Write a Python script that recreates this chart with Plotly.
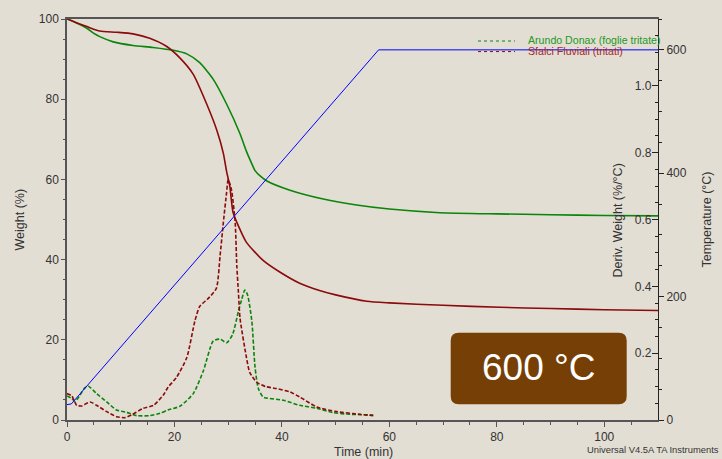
import plotly.graph_objects as go

# ---------------- data ----------------
# Temperature program (blue)
temp_t = [0, 0.8, 58, 110]
temp_v = [25, 26, 600, 600]

# Weight (%) - Arundo Donax (green)
ad_w_t = [0, 1.5, 3.7, 5, 6.1, 8.6, 12.3, 16, 19.8, 22.3, 24.7, 27.2, 29.7, 32.2,
          33.4, 34.2, 35, 36, 37.2, 41.5, 47.7, 53.9, 60, 69.4, 80, 90, 100, 110]
ad_w = [100, 99.2, 97.7, 96.4, 95.6, 94.3, 93.4, 92.9, 92.2, 91.3, 89.1, 85, 78.8, 71.4,
        67, 64.5, 62.2, 60.8, 59.6, 57.3, 55.1, 53.6, 52.6, 51.7, 51.4, 51.2, 51.0, 50.9]

# Weight (%) - Sfalci Fluviali (red)
sf_w_t = [0, 1.5, 3.7, 6.1, 9.2, 12.3, 15.4, 18.5, 21, 23.5, 26, 27.9, 29.1, 29.7, 30.3,
          30.9, 31.9, 33.4, 36.5, 39.6, 43.3, 47, 50, 55.8, 60, 70, 80.6, 90, 100, 110]
sf_w = [100, 99.2, 98.1, 97.0, 96.7, 96.3, 95.2, 93.2, 90.3, 86.2, 78.8, 72.2, 66.5, 62, 58.3,
        51.8, 48.4, 44.3, 39.8, 36.9, 34.1, 32.3, 31.2, 29.6, 29.2, 28.6, 28.1, 27.8, 27.5, 27.3]

# Deriv. weight (%/°C) - Arundo Donax (green dashed)
ad_d_t = [0, 0.9, 1.5, 2.4, 3.3, 4.0, 5.5, 7.4, 9.2, 11.1, 13, 15.4, 17.3, 18.8, 21, 23.5,
          25.4, 27.2, 28.5, 29.7, 30.8, 31.9, 32.5, 33.1, 33.6, 34.4, 35, 35.6, 36.5, 40.3,
          43.3, 46.5, 49.5, 52.7, 57]
ad_d = [0.072, 0.064, 0.056, 0.074, 0.096, 0.101, 0.079, 0.054, 0.030, 0.023, 0.013, 0.013,
        0.020, 0.030, 0.041, 0.079, 0.148, 0.236, 0.242, 0.231, 0.255, 0.325, 0.36, 0.389,
        0.375, 0.296, 0.158, 0.095, 0.069, 0.059, 0.044, 0.035, 0.022, 0.017, 0.015]

# Deriv. weight (%/°C) - Sfalci Fluviali (red dashed)
sf_d_t = [0, 0.9, 1.8, 2.7, 4.3, 5.5, 7.4, 9.2, 10.8, 12, 14.2, 16.1, 17.9, 18.8, 20.4,
          22.3, 23.8, 24.7, 26.3, 27.8, 28.5, 29.1, 29.7, 30.0, 30.6, 31.3, 31.6, 31.9, 32.2,
          33.4, 34, 35.3, 37, 39, 41.5, 43.3, 46.5, 50.2, 54.5, 57]
sf_d = [0.079, 0.072, 0.044, 0.042, 0.054, 0.044, 0.025, 0.010, 0.007, 0.015, 0.035, 0.044,
        0.074, 0.098, 0.128, 0.187, 0.296, 0.34, 0.364, 0.394, 0.493, 0.591, 0.68, 0.719,
        0.69, 0.591, 0.463, 0.384, 0.305, 0.187, 0.143, 0.113, 0.1, 0.094, 0.084, 0.069,
        0.039, 0.025, 0.017, 0.013]

series_names = ["Arundo Donax (foglie tritate)", "Sfalci Fluviali (tritati)"]
box_label = "600 °C"

# ---------------- style ----------------
BG = "#e3ded4"
GREEN = "#0a850a"
RED = "#8b0a0a"
BLUE = "#0000ff"
AX = "#555555"
TXT = "#333333"
FONT = "Liberation Sans, Arial, sans-serif"

fig = go.Figure()
fig.add_trace(go.Scatter(x=temp_t, y=temp_v, yaxis="y3", mode="lines",
                         line=dict(color=BLUE, width=1), showlegend=False))
fig.add_trace(go.Scatter(x=ad_d_t, y=ad_d, yaxis="y2", mode="lines",
                         line=dict(color=GREEN, width=1.6, dash="4px,2px", shape="spline", smoothing=0.6),
                         showlegend=False))
fig.add_trace(go.Scatter(x=sf_d_t, y=sf_d, yaxis="y2", mode="lines",
                         line=dict(color=RED, width=1.6, dash="4px,2px", shape="spline", smoothing=0.6),
                         showlegend=False))
fig.add_trace(go.Scatter(x=ad_w_t, y=ad_w, mode="lines",
                         line=dict(color=GREEN, width=1.6, shape="spline", smoothing=0.6),
                         showlegend=False))
fig.add_trace(go.Scatter(x=sf_w_t, y=sf_w, mode="lines",
                         line=dict(color=RED, width=1.6, shape="spline", smoothing=0.6),
                         showlegend=False))

tickfont = dict(family=FONT, size=12, color=TXT)

fig.update_layout(
    width=722, height=459,
    margin=dict(l=67, r=64, t=14, b=39),
    paper_bgcolor=BG, plot_bgcolor=BG,
    font=dict(family=FONT, color=TXT),
    showlegend=False,
    xaxis=dict(range=[0, 110], dtick=20, tick0=0, ticks="outside", ticklen=5, tickcolor=AX,
               minor=dict(dtick=5, tick0=0, ticks="outside", ticklen=3, tickcolor=AX),
               showline=True, linecolor=AX, linewidth=1.5, mirror=True,
               showgrid=False, zeroline=False, tickfont=tickfont),
    yaxis=dict(range=[0, 100], dtick=20, tick0=0, ticks="outside", ticklen=4, tickcolor=AX,
               minor=dict(dtick=5, tick0=0, ticks="outside", ticklen=2, tickcolor=AX),
               showline=True, linecolor=AX, linewidth=1.5,
               showgrid=False, zeroline=False, tickfont=tickfont),
    yaxis2=dict(range=[0, 1.2], overlaying="y", side="right", dtick=0.2, tick0=0,
                tickformat=".1f", labelalias={"0.0": ""},
                ticks="inside", ticklabelposition="inside", ticklen=6, tickcolor="#222",
                minor=dict(dtick=0.05, tick0=0, ticks="inside", ticklen=3, tickcolor="#222"),
                showline=True, linecolor="#222", linewidth=1,
                showgrid=False, zeroline=False, tickfont=tickfont),
    yaxis3=dict(range=[0, 650], overlaying="y", side="right", anchor="free", position=1,
                dtick=200, tick0=0, ticks="outside", ticklen=5, tickcolor="#222",
                minor=dict(dtick=50, tick0=0, ticks="outside", ticklen=3, tickcolor="#222"),
                showline=False, showgrid=False, zeroline=False, tickfont=tickfont),
)

# rounded box
x0, x1 = (450.7 - 67) / 591, (626.7 - 67) / 591
y0, y1 = (420 - 404) / 406, (420 - 331.7) / 406
rx, ry = 8 / 591, 8 / 406
path = (f"M {x0+rx},{y0} L {x1-rx},{y0} Q {x1},{y0} {x1},{y0+ry} "
        f"L {x1},{y1-ry} Q {x1},{y1} {x1-rx},{y1} L {x0+rx},{y1} "
        f"Q {x0},{y1} {x0},{y1-ry} L {x0},{y0+ry} Q {x0},{y0} {x0+rx},{y0} Z")
fig.add_shape(type="path", path=path, xref="paper", yref="paper",
              fillcolor="#753f05", line=dict(width=0), layer="above")


def px(x):
    return (x - 67) / 591


def py(y):
    return (420 - y) / 406


# legend samples (dotted)
fig.add_shape(type="line", xref="paper", yref="paper", x0=px(478), x1=px(515), y0=py(36.3), y1=py(36.3),
              line=dict(color=GREEN, width=1, dash="dot"))
fig.add_shape(type="line", xref="paper", yref="paper", x0=px(478), x1=px(515), y0=py(47), y1=py(47),
              line=dict(color=RED, width=1, dash="dot"))

ann = [
    dict(text=series_names[0], x=px(525.5), y=py(35.3), xanchor="left", yanchor="middle",
         font=dict(size=10.6, color="#229922")),
    dict(text=series_names[1], x=px(525.5), y=py(46), xanchor="left", yanchor="middle",
         font=dict(size=10.6, color="#a52828")),
    dict(text=box_label, x=px(538.7), y=py(367), xanchor="center", yanchor="middle",
         font=dict(size=37, color="white")),
    dict(text="Weight (%)", x=px(19), y=0.5, textangle=-90, xanchor="center", yanchor="middle",
         font=dict(size=12.5, color=TXT)),
    dict(text="Deriv. Weight (%/°C)", x=px(618), y=py(218), textangle=-90, xanchor="center",
         yanchor="middle", font=dict(size=12.5, color=TXT)),
    dict(text="Temperature (°C)", x=px(706), y=py(217), textangle=-90, xanchor="center",
         yanchor="middle", font=dict(size=12.5, color=TXT)),
    dict(text="Time (min)", x=px(363.7), y=py(452.7), xanchor="center", yanchor="middle",
         font=dict(size=12.5, color=TXT)),
    dict(text="Universal V4.5A TA Instruments", x=px(721), y=py(449.5), xanchor="right",
         yanchor="middle", font=dict(size=9.4, color=TXT)),
]
for a in ann:
    a.update(xref="paper", yref="paper", showarrow=False)
    a["font"]["family"] = FONT
    fig.add_annotation(**a)

fig.write_html("out.html")
